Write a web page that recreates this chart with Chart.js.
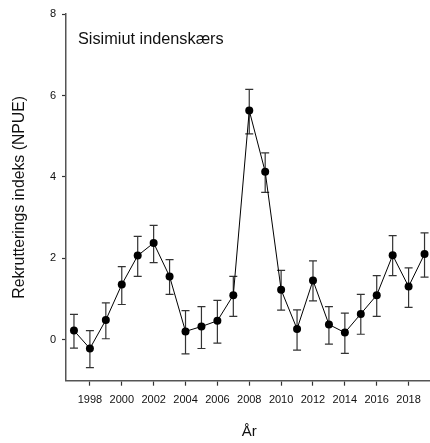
<!DOCTYPE html>
<html>
<head>
<meta charset="utf-8">
<script src="https://cdn.jsdelivr.net/npm/chart.js@4/dist/chart.umd.min.js"></script>
<style>
  html, body { margin: 0; padding: 0; background: #fff; overflow: hidden; }
  #wrap { width: 440px; height: 443px; }
</style>
</head>
<body>
<div id="wrap"><canvas id="c" width="440" height="443"></canvas></div>
<script>
// Recruitment index (NPUE) per year with upper/lower error limits
const years  = [1997, 1998, 1999, 2000, 2001, 2002, 2003, 2004, 2005, 2006, 2007, 2008, 2009,
                2010, 2011, 2012, 2013, 2014, 2015, 2016, 2017, 2018, 2019];
const index  = [0.23, -0.21, 0.49, 1.36, 2.07, 2.38, 1.56, 0.21, 0.33, 0.47, 1.10, 5.63, 4.13,
                1.23, 0.27, 1.46, 0.38, 0.18, 0.64, 1.10, 2.08, 1.31, 2.11];
const upper  = [0.63, 0.23, 0.91, 1.80, 2.54, 2.81, 1.97, 0.72, 0.82, 0.97, 1.56, 6.15, 4.59,
                1.71, 0.74, 1.94, 0.82, 0.66, 1.12, 1.58, 2.56, 1.77, 2.63];
const lower  = [-0.20, -0.68, 0.03, 0.87, 1.56, 1.90, 1.12, -0.34, -0.21, -0.08, 0.58, 5.06, 3.62,
                0.73, -0.25, 0.96, -0.10, -0.33, 0.14, 0.58, 1.58, 0.80, 1.54];
const xTickYears = [1998, 2000, 2002, 2004, 2006, 2008, 2010, 2012, 2014, 2016, 2018];
const yTickValues = [0, 2, 4, 6, 8];

const FONT = '"Liberation Sans", Arial, sans-serif';
const AXIS_COLOR = '#555';

// Vertical error bars with caps, drawn beneath the line and markers
const errorBars = {
  id: 'errorBars',
  beforeDatasetsDraw(chart) {
    const { ctx, scales: { x, y } } = chart;
    ctx.save();
    ctx.strokeStyle = '#333';
    ctx.lineWidth = 1.2;
    const cap = 4;
    years.forEach((yr, i) => {
      const px = x.getPixelForValue(yr);
      const top = y.getPixelForValue(upper[i]);
      const bot = y.getPixelForValue(lower[i]);
      ctx.beginPath();
      ctx.moveTo(px, top); ctx.lineTo(px, bot);
      ctx.moveTo(px - cap, top); ctx.lineTo(px + cap, top);
      ctx.moveTo(px - cap, bot); ctx.lineTo(px + cap, bot);
      ctx.stroke();
    });
    ctx.restore();
  }
};

// Panel label in the upper-left of the plot
const panelLabel = {
  id: 'panelLabel',
  afterDraw(chart) {
    const { ctx, chartArea } = chart;
    ctx.save();
    ctx.font = '16.3px ' + FONT;
    ctx.fillStyle = '#111';
    ctx.textAlign = 'left';
    ctx.textBaseline = 'alphabetic';
    ctx.fillText('Sisimiut indenskærs', chartArea.left + 12, chartArea.top + 29.5);
    ctx.restore();
  }
};

new Chart(document.getElementById('c'), {
  type: 'line',
  data: {
    datasets: [{
      data: years.map((yr, i) => ({ x: yr, y: index[i] })),
      borderColor: '#000',
      borderWidth: 1,
      backgroundColor: '#000',
      pointBackgroundColor: '#000',
      pointBorderColor: '#000',
      pointRadius: 4,
      pointBorderWidth: 0,
      tension: 0,
      fill: false
    }]
  },
  options: {
    responsive: false,
    animation: false,
    events: [],
    layout: { padding: { left: 0, top: 14, right: 7.5, bottom: 0 } },
    plugins: { legend: { display: false }, tooltip: { enabled: false } },
    scales: {
      x: {
        type: 'linear',
        min: 1996.5,
        max: 2019.5,
        afterBuildTicks(scale) { scale.ticks = xTickYears.map(v => ({ value: v })); },
        afterFit(scale) { scale.height = 62.3; },
        ticks: {
          callback: v => String(v),
          font: { family: FONT, size: 11 },
          color: '#111',
          padding: 8,
          maxRotation: 0,
          autoSkip: false
        },
        grid: { display: true, drawOnChartArea: false, drawTicks: true, tickLength: 5, tickColor: '#333', tickWidth: 1.2 },
        border: { display: true, color: AXIS_COLOR, width: 1.5 },
        title: {
          display: true,
          text: 'År',
          font: { family: FONT, size: 15 },
          color: '#111',
          padding: { top: 0, bottom: 2 }
        }
      },
      y: {
        type: 'linear',
        min: -1,
        max: 8,
        afterBuildTicks(scale) { scale.ticks = yTickValues.map(v => ({ value: v })); },
        afterFit(scale) { scale.width = 66; },
        ticks: {
          callback: v => String(v),
          font: { family: FONT, size: 11 },
          color: '#111',
          padding: 6
        },
        grid: { display: true, drawOnChartArea: false, drawTicks: true, tickLength: 4, tickColor: '#333', tickWidth: 1.2 },
        border: { display: true, color: AXIS_COLOR, width: 1.5 },
        title: {
          display: true,
          text: 'Rekrutterings indeks (NPUE)',
          font: { family: FONT, size: 15.8 },
          color: '#111',
          padding: { top: 10, bottom: 0 }
        }
      }
    }
  },
  plugins: [errorBars, panelLabel]
});
</script>
</body>
</html>
